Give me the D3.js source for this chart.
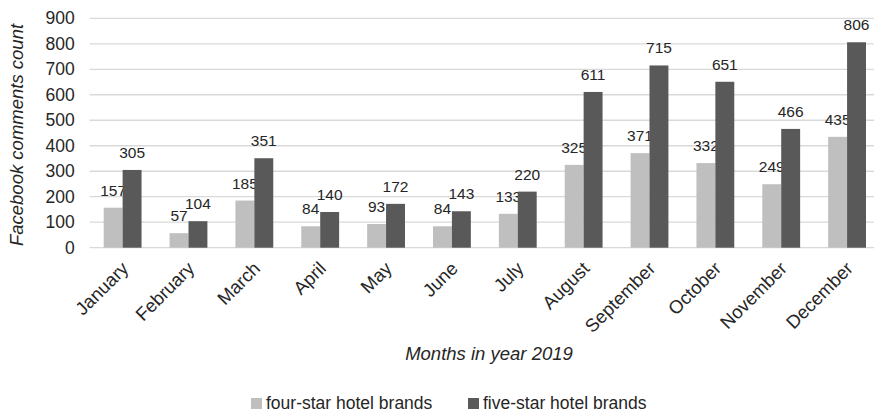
<!DOCTYPE html>
<html><head><meta charset="utf-8">
<script src="https://cdn.jsdelivr.net/npm/d3@7"></script>
<style>body{margin:0;background:#fff}svg{display:block}text{font-family:"Liberation Sans",Arial,sans-serif}</style>
</head><body>
<script>
const months = ["January","February","March","April","May","June","July","August","September","October","November","December"];
const fourStar = [157,57,185,84,93,84,133,325,371,332,249,435];
const fiveStar = [305,104,351,140,172,143,220,611,715,651,466,806];
const seriesNames = ["four-star hotel brands","five-star hotel brands"];
const seriesColors = ["#bfbfbf","#595959"];
const yTicks = [0,100,200,300,400,500,600,700,800,900];

const W=874,H=415;
const m={left:89.7,right:880,top:18.3,bottom:247.7};
const svg=d3.select("body").append("svg").attr("width",W).attr("height",H);
const x=d3.scaleBand().domain(months).range([m.left,m.right]).paddingInner(28/65.8).paddingOuter(14/65.8);
const xs=d3.scaleBand().domain([0,1]).range([0,x.bandwidth()]);
const y=d3.scaleLinear().domain([0,900]).range([m.bottom,m.top]);

svg.append("g").selectAll("line").data(yTicks).join("line")
  .attr("x1",m.left).attr("x2",m.right).attr("y1",d=>y(d)).attr("y2",d=>y(d))
  .attr("stroke","#d9d9d9").attr("stroke-width",1.3);

const ya=svg.append("g").attr("transform",`translate(${m.left},0)`)
  .call(d3.axisLeft(y).tickValues(yTicks).tickSize(0).tickPadding(15));
ya.select(".domain").remove();
ya.selectAll("text").attr("font-size",17.5).attr("fill","#262626").attr("font-family","Liberation Sans, Arial, sans-serif");

const data=[fourStar,fiveStar];
data.forEach((vals,si)=>{
  const g=svg.append("g");
  g.selectAll("rect").data(vals).join("rect")
    .attr("x",(d,i)=>x(months[i])+xs(si)).attr("width",xs.bandwidth())
    .attr("y",d=>y(d)).attr("height",d=>y(0)-y(d)).attr("fill",seriesColors[si]);
  g.selectAll("text").data(vals).join("text")
    .attr("x",(d,i)=>x(months[i])+xs(si)+xs.bandwidth()/2)
    .attr("y",d=>y(d)-12).attr("text-anchor","middle")
    .attr("font-size",15.5).attr("fill","#262626").text(d=>d);
});

const xa=svg.append("g").attr("transform",`translate(0,${m.bottom})`)
  .call(d3.axisBottom(x).tickSize(0).tickPadding(0));
xa.select(".domain").remove();
xa.selectAll("text").attr("font-size",18.5).attr("fill","#262626").attr("font-family","Liberation Sans, Arial, sans-serif")
  .attr("text-anchor","end").attr("dy",0)
  .attr("transform","translate(7,22) rotate(-45)");

svg.append("text").attr("x",489).attr("y",360).attr("text-anchor","middle")
  .attr("font-size",18.5).attr("font-style","italic").attr("fill","#262626").text("Months in year 2019");
svg.append("text").attr("transform",`translate(23,${(m.top+m.bottom)/2+2}) rotate(-90)`).attr("text-anchor","middle")
  .attr("font-size",18.5).attr("font-style","italic").attr("fill","#262626").text("Facebook comments count");

const lx=[251,468];
seriesNames.forEach((n,i)=>{
  svg.append("rect").attr("x",lx[i]).attr("y",398).attr("width",11).attr("height",11).attr("fill",seriesColors[i]);
  svg.append("text").attr("x",lx[i]+15).attr("y",409).attr("font-size",17.5).attr("fill","#262626").text(n);
});
</script>
</body></html>
